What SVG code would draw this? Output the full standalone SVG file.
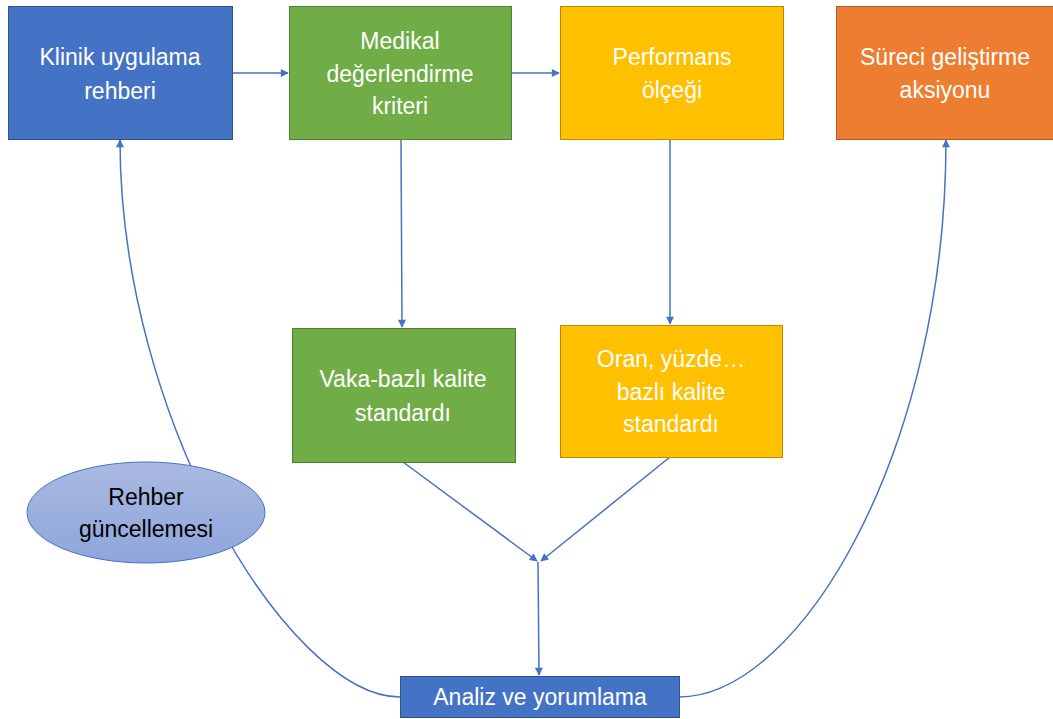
<svg xmlns="http://www.w3.org/2000/svg" width="1053" height="719" viewBox="0 0 1053 719">
<style>
.t{font-family:"Liberation Sans",Arial,sans-serif;font-size:23px;text-anchor:middle;fill:#fff}
.d{fill:#000}
.c{fill:none;stroke:#4472C4;stroke-width:1.5}
</style>
<defs>
<marker id="a" viewBox="0 0 10 10" refX="9" refY="5" markerWidth="9" markerHeight="8" markerUnits="userSpaceOnUse" orient="auto"><path d="M0,0L10,5L0,10z" fill="#4472C4"/></marker>
<linearGradient id="g" x1="0" y1="0" x2="0" y2="1"><stop offset="0" stop-color="#AAB9E2"/><stop offset="1" stop-color="#8EA6DB"/></linearGradient>
</defs>
<g id="connectors">
<path class="c" d="M232,73H288" marker-end="url(#a)"/>
<path class="c" d="M511,73H559" marker-end="url(#a)"/>
<path class="c" d="M401,139L402,327" marker-end="url(#a)"/>
<path class="c" d="M670,139V324" marker-end="url(#a)"/>
<path class="c" d="M403,462L537,561" marker-end="url(#a)"/>
<path class="c" d="M670,457L541,561" marker-end="url(#a)"/>
<path class="c" d="M538,562L539,675" marker-end="url(#a)"/>
<path class="c" d="M400,697C290,697 120,420 120,140" marker-end="url(#a)"/>
<path class="c" d="M679,697C800,697 946,450 946,140" marker-end="url(#a)"/>
</g>
<g id="n1"><rect x="8.5" y="6.5" width="224" height="133" fill="#4472C4" stroke="#2F528F"/><text class="t" x="120" y="65">Klinik uygulama</text><text class="t" x="120" y="99">rehberi</text></g>
<g id="n2"><rect x="289.5" y="6.5" width="222" height="133" fill="#70AD47" stroke="#507E32"/><text class="t" x="400" y="49">Medikal</text><text class="t" x="400" y="82">değerlendirme</text><text class="t" x="400" y="114">kriteri</text></g>
<g id="n3"><rect x="560.5" y="6.5" width="223" height="133" fill="#FFC000" stroke="#BC8C00"/><text class="t" x="672" y="65">Performans</text><text class="t" x="672" y="98">ölçeği</text></g>
<g id="n4"><rect x="836.5" y="6.5" width="220" height="133" fill="#ED7D31" stroke="#AE5A21"/><text class="t" x="945" y="65">Süreci geliştirme</text><text class="t" x="945" y="98">aksiyonu</text></g>
<g id="n5"><rect x="292.5" y="328.5" width="223" height="134" fill="#70AD47" stroke="#507E32"/><text class="t" x="403" y="387">Vaka-bazlı kalite</text><text class="t" x="403" y="421">standardı</text></g>
<g id="n6"><rect x="560.5" y="325.5" width="222" height="132" fill="#FFC000" stroke="#BC8C00"/><text class="t" x="671" y="367">Oran, yüzde…</text><text class="t" x="671" y="400">bazlı kalite</text><text class="t" x="671" y="432">standardı</text></g>
<g id="n7"><ellipse cx="146" cy="512.5" rx="119" ry="50.5" fill="url(#g)" stroke="#4472C4"/><text class="t d" x="146" y="505">Rehber</text><text class="t d" x="146" y="537">güncellemesi</text></g>
<g id="n8"><rect x="400.5" y="676.5" width="279" height="41" fill="#4472C4" stroke="#2F528F"/><text class="t" x="540" y="705">Analiz ve yorumlama</text></g>
</svg>
